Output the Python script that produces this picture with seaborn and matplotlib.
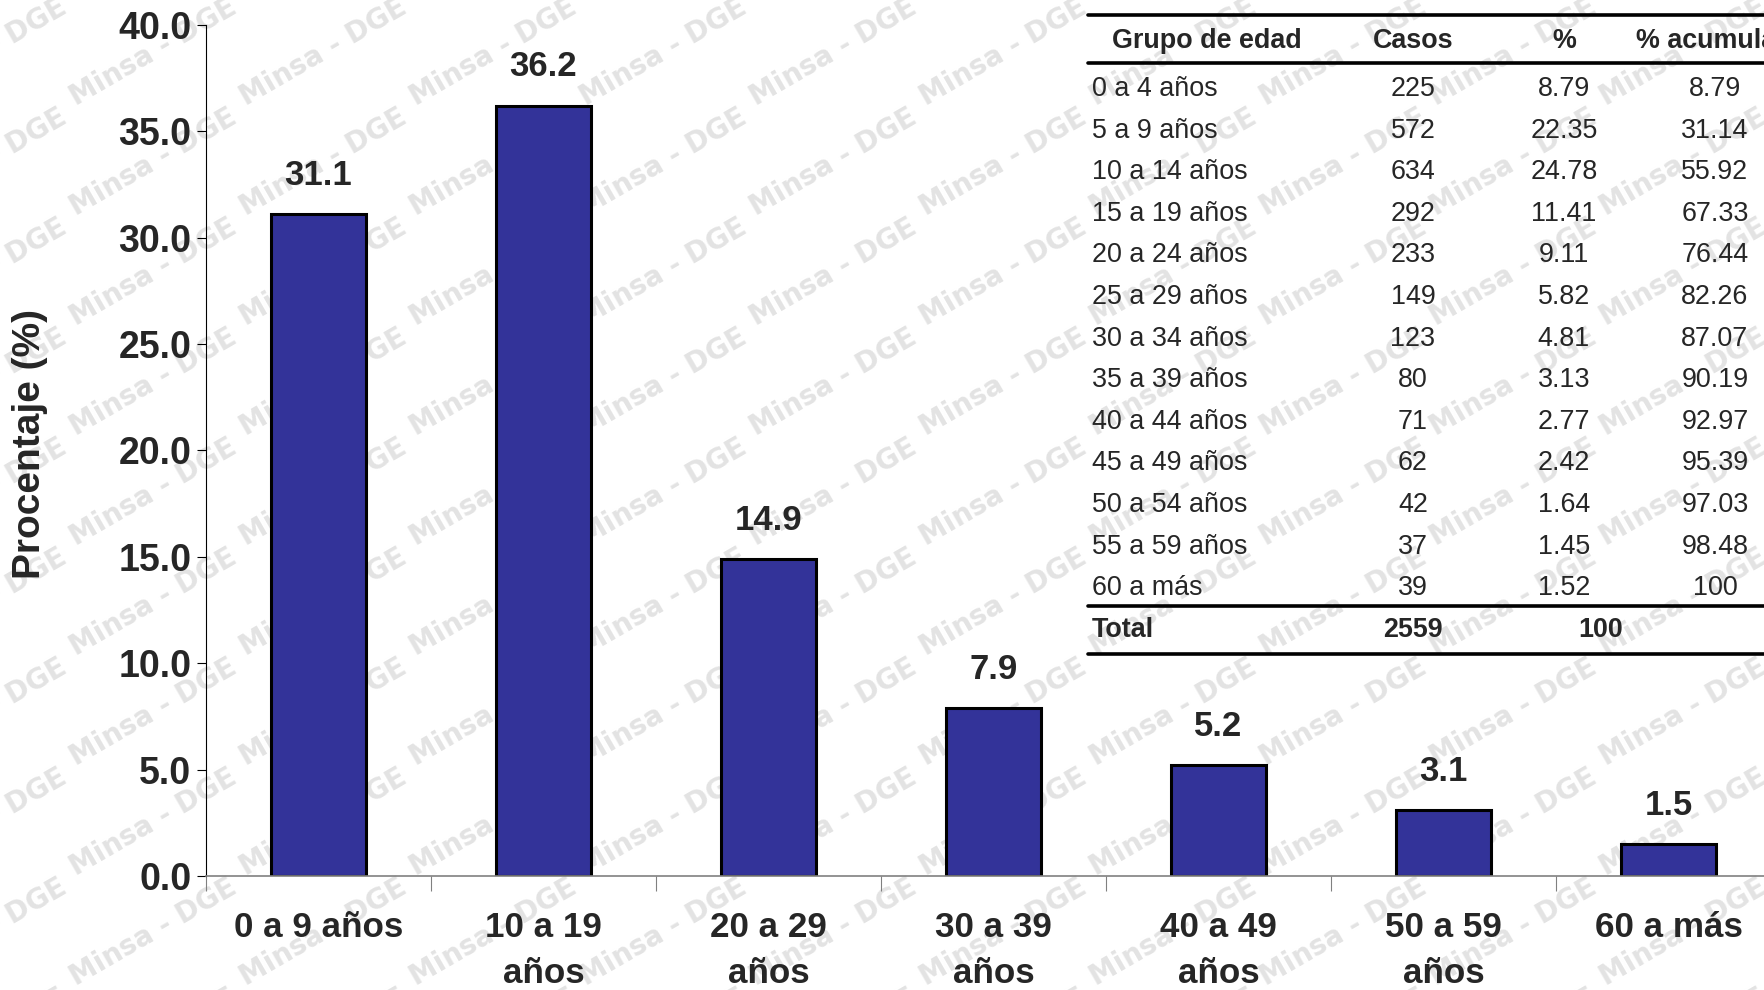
import numpy as np
import pandas as pd
import seaborn as sns
import matplotlib
matplotlib.use("Agg")
import matplotlib.pyplot as plt
from matplotlib import font_manager
from matplotlib.lines import Line2D

# datos del grafico
grupos = ["0 a 9 años", "10 a 19\naños", "20 a 29\naños", "30 a 39\naños",
          "40 a 49\naños", "50 a 59\naños", "60 a más"]
porcentaje = [31.1, 36.2, 14.9, 7.9, 5.2, 3.1, 1.5]
yticks = [0, 5, 10, 15, 20, 25, 30, 35, 40]

# datos de la tabla
tabla_grupos = ["0 a 4 años", "5 a 9 años", "10 a 14 años", "15 a 19 años",
                "20 a 24 años", "25 a 29 años", "30 a 34 años", "35 a 39 años",
                "40 a 44 años", "45 a 49 años", "50 a 54 años", "55 a 59 años",
                "60 a más"]
casos = [225, 572, 634, 292, 233, 149, 123, 80, 71, 62, 42, 37, 39]
pct = ["8.79", "22.35", "24.78", "11.41", "9.11", "5.82", "4.81", "3.13",
       "2.77", "2.42", "1.64", "1.45", "1.52"]
pct_acum = ["8.79", "31.14", "55.92", "67.33", "76.44", "82.26", "87.07",
            "90.19", "92.97", "95.39", "97.03", "98.48", "100"]
encabezado = ["Grupo de edad", "Casos", "%", "% acumulado"]
total_casos = 2559
total_pct = "100"


def has_font(name):
    try:
        font_manager.findfont(font_manager.FontProperties(family=name),
                              fallback_to_default=False)
        return True
    except ValueError:
        return False


NARROW = "Liberation Sans Narrow" if has_font("Liberation Sans Narrow") else "Liberation Sans"
k = 1.0 if NARROW == "Liberation Sans Narrow" else 0.84

sns.set_style("white")
plt.rcParams["font.family"] = ["Liberation Sans", "DejaVu Sans"]

W, H = 1764, 990
fig = plt.figure(figsize=(W / 100, H / 100), dpi=100)
fig.patch.set_facecolor("white")


def fx(x):
    return x / W


def fy(y):
    return 1 - y / H


# marca de agua
for i in range(-1, 12):
    for j in range(-1, 10):
        fig.text(fx(153 + 170 * i), fy(52 + 110 * j), "Minsa - DGE",
                 rotation=30, ha="center", va="center", fontsize=20,
                 fontweight="bold", family="DejaVu Sans", color="#e3e3e3",
                 zorder=-5)

ax = fig.add_axes([fx(206), 1 - 876 / H, 1575 / W, (876 - 24.75) / H])
ax.patch.set_alpha(0)

df = pd.DataFrame({"grupo": grupos, "porcentaje": porcentaje})
sns.barplot(data=df, x="grupo", y="porcentaje", color="#333399", saturation=1,
            width=0.42, edgecolor="black", linewidth=2.2, ax=ax, zorder=2)

for i, v in enumerate(porcentaje):
    ax.annotate(f"{v:.1f}", (i, v), xytext=(0, 21), textcoords="offset points",
                ha="center", va="baseline", fontsize=25, fontweight="bold")

ax.set_xlim(-0.5, 6.5)
ax.set_ylim(0, 40)
ax.set_yticks(yticks)
ax.set_yticklabels([f"{t:.1f}" for t in yticks], fontsize=27, fontweight="bold")
ax.tick_params(axis="y", direction="out", length=6.5, width=0.8, color="black",
               pad=4, left=True)
ax.set_xticks(np.arange(-0.5, 7, 1), minor=True)
ax.tick_params(axis="x", which="minor", direction="out", length=11, width=0.8,
               color="#808080", bottom=True)
ax.tick_params(axis="x", which="major", length=0, pad=25)
ax.set_xticklabels(grupos, fontsize=30 * k, fontweight="bold", family=NARROW,
                   linespacing=1.5)
ax.set_xlabel("")
ax.set_ylabel("Procentaje (%)", fontsize=28, fontweight="bold")
ax.yaxis.set_label_coords(-0.1003, 0.507)
for s in ["top", "right"]:
    ax.spines[s].set_visible(False)
ax.spines["left"].set_color("black")
ax.spines["left"].set_linewidth(0.8)
ax.spines["bottom"].set_color("#808080")
ax.spines["bottom"].set_linewidth(1.2)

# tabla
col_x = [1092, 1413, 1564, 1715]
fs_t = 23 * k
fig.text(fx(1207), fy(40.5), encabezado[0], ha="center", va="center",
         fontsize=fs_t, fontweight="bold", family=NARROW)
for c in range(1, 4):
    fig.text(fx(col_x[c] if c < 3 else 1722), fy(40.5), encabezado[c],
             ha="center", va="center", fontsize=fs_t, fontweight="bold",
             family=NARROW)
for r in range(len(tabla_grupos)):
    y = fy(88.9 + 41.6 * r)
    fig.text(fx(col_x[0]), y, tabla_grupos[r], ha="left", va="center",
             fontsize=fs_t, family=NARROW)
    fig.text(fx(col_x[1]), y, str(casos[r]), ha="center", va="center",
             fontsize=fs_t, family=NARROW)
    fig.text(fx(col_x[2]), y, pct[r], ha="center", va="center",
             fontsize=fs_t, family=NARROW)
    fig.text(fx(col_x[3]), y, pct_acum[r], ha="center", va="center",
             fontsize=fs_t, family=NARROW)
fig.text(fx(col_x[0]), fy(630), "Total", ha="left", va="center",
         fontsize=fs_t, fontweight="bold", family=NARROW)
fig.text(fx(col_x[1]), fy(630), str(total_casos), ha="center", va="center",
         fontsize=fs_t, fontweight="bold", family=NARROW)
fig.text(fx(1601), fy(630), total_pct, ha="center", va="center",
         fontsize=fs_t, fontweight="bold", family=NARROW)
for yl in [14.6, 63, 606, 653.6]:
    fig.add_artist(Line2D([fx(1088), 1.0], [fy(yl), fy(yl)], color="black",
                          linewidth=2.6, transform=fig.transFigure))

fig.savefig("out.png", dpi=100, facecolor="white")
